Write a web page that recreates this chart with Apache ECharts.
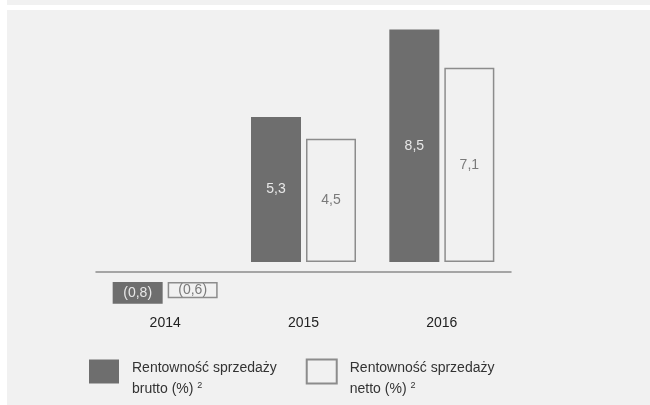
<!DOCTYPE html>
<html>
<head>
<meta charset="utf-8">
<script src="https://cdn.jsdelivr.net/npm/echarts@6/dist/echarts.min.js"></script>
<style>
  html, body { margin: 0; padding: 0; background: #fff; overflow: hidden; }
  #chart { width: 650px; height: 405px; }
</style>
</head>
<body>
<div id="chart"></div>
<script>
var years = ['2014', '2015', '2016'];
var brutto = [-0.8, 5.3, 8.5];
var netto = [-0.6, 4.5, 7.1];
var seriesNames = ['Rentowność sprzedaży\nbrutto (%)', 'Rentowność sprzedaży\nnetto (%)'];

// bars start a little away from the axis line, on both sides
var GAP = 0.365;
var spacer = function(arr) {
  return arr.map(function(v) { return v < 0 ? -GAP : GAP; });
};

var fmt = function(p) {
  var s = Math.abs(p.value).toFixed(1).replace('.', ',');
  return p.value < 0 ? '(' + s + ')' : s;
};

var option = {
  backgroundColor: '#f1f1f1',
  animation: false,
  graphic: [
    { type: 'rect', left: 0, top: 0, shape: { width: 7, height: 405 }, style: { fill: '#fff' } },
    { type: 'rect', left: 0, top: 5, shape: { width: 650, height: 5 }, style: { fill: '#fff' } }
  ],
  grid: { left: 96, top: 12, width: 415, height: 301 },
  legend: {
    left: 84,
    top: 338,
    itemWidth: 30,
    itemHeight: 24,
    itemGap: 29,
    icon: 'rect',
    data: seriesNames,
    formatter: function(name) { return name + ' {sup|2}'; },
    textStyle: {
      fontFamily: 'Liberation Sans, Arial, sans-serif',
      fontSize: 14,
      color: '#333',
      lineHeight: 21,
      padding: [15, 0, 0, 8],
      rich: {
        sup: { fontSize: 9, color: '#333', padding: [0, 0, 8, 0] }
      }
    }
  },
  xAxis: {
    type: 'category',
    data: years,
    axisLine: { onZero: true, lineStyle: { color: '#8c8c8c', width: 1.5 } },
    axisTick: { show: false },
    axisLabel: {
      margin: 3,
      color: '#222',
      fontSize: 14,
      fontFamily: 'Liberation Sans, Arial, sans-serif'
    }
  },
  yAxis: {
    type: 'value',
    min: -1.5,
    max: 9.5,
    show: false,
    splitLine: { show: false }
  },
  series: [
    {
      name: 'spacerA',
      type: 'bar',
      stack: 'a',
      barWidth: 50,
      barGap: '10%',
      silent: true,
      itemStyle: { color: 'transparent' },
      data: spacer(brutto)
    },
    {
      name: seriesNames[0],
      type: 'bar',
      stack: 'a',
      barWidth: 50,
      barGap: '10%',
      itemStyle: { color: '#6e6e6e' },
      label: {
        show: true,
        position: 'inside',
        color: '#e8e8e8',
        fontSize: 14,
        fontFamily: 'Liberation Sans, Arial, sans-serif',
        formatter: fmt
      },
      data: brutto
    },
    {
      name: 'spacerB',
      type: 'bar',
      stack: 'b',
      barWidth: 50,
      barGap: '10%',
      silent: true,
      itemStyle: { color: 'transparent' },
      data: spacer(netto)
    },
    {
      name: seriesNames[1],
      type: 'bar',
      stack: 'b',
      barWidth: 50,
      barGap: '10%',
      itemStyle: { color: '#f1f1f1', borderColor: '#8c8c8c', borderWidth: 1.5 },
      label: {
        show: true,
        position: 'inside',
        color: '#7a7a7a',
        fontSize: 14,
        fontFamily: 'Liberation Sans, Arial, sans-serif',
        formatter: fmt
      },
      data: netto
    }
  ]
};

var chart = echarts.init(document.getElementById('chart'));
chart.setOption(option);
</script>
</body>
</html>
